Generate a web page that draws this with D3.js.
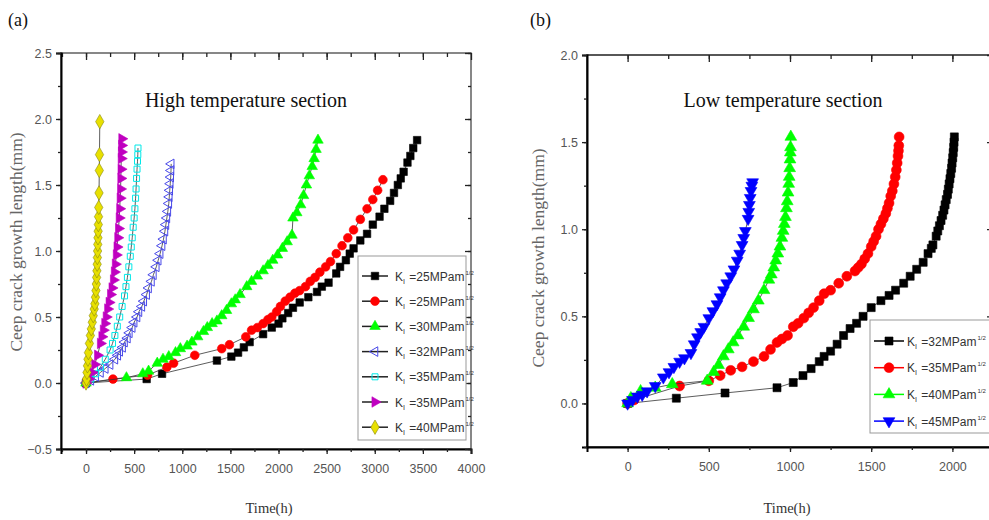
<!DOCTYPE html>
<html>
<head>
<meta charset="utf-8">
<title>Creep crack growth</title>
<script src="https://cdn.jsdelivr.net/npm/d3@7"></script>
<style>
body { margin: 0; padding: 0; background: #fff; }
.serif { font-family: "Liberation Serif", "Times New Roman", serif; }
.sans { font-family: "Liberation Sans", Arial, sans-serif; }
</style>
</head>
<body>
<svg id="chart" width="989" height="520"></svg>
<script>

// ---- panel (a): high temperature section, [time h, length mm]
var hiK25a = [[0,0],[630,0.03],[790,0.07],[1360,0.17],[1510,0.2],[1580,0.23],[1640,0.27],[1700,0.31],[1840,0.37],[1930,0.42],[2000,0.45],[2040,0.49],[2100,0.53],[2150,0.57],[2220,0.61],[2310,0.65],[2400,0.69],[2450,0.73],[2520,0.76],[2600,0.83],[2640,0.88],[2700,0.93],[2740,0.98],[2780,1.02],[2850,1.08],[2920,1.13],[2980,1.2],[3050,1.26],[3100,1.32],[3160,1.38],[3200,1.44],[3240,1.5],[3270,1.55],[3300,1.6],[3340,1.67],[3370,1.72],[3400,1.78],[3440,1.84]];
var hiK25b = [[0,0],[280,0.03],[640,0.06],[840,0.12],[910,0.15],[1130,0.21],[1410,0.26],[1490,0.29],[1660,0.35],[1720,0.4],[1780,0.42],[1840,0.45],[1890,0.48],[1930,0.5],[1980,0.54],[2020,0.58],[2070,0.62],[2120,0.65],[2170,0.68],[2220,0.7],[2280,0.73],[2330,0.77],[2380,0.8],[2430,0.84],[2490,0.88],[2540,0.92],[2600,0.98],[2660,1.04],[2720,1.1],[2780,1.16],[2850,1.24],[2920,1.32],[2980,1.39],[3030,1.46],[3085,1.54]];
var hiK30 = [[0,0],[420,0.04],[590,0.07],[650,0.09],[740,0.15],[800,0.18],[860,0.2],[930,0.23],[980,0.26],[1050,0.28],[1100,0.31],[1160,0.35],[1220,0.39],[1260,0.42],[1310,0.45],[1360,0.47],[1410,0.51],[1460,0.55],[1510,0.6],[1550,0.63],[1600,0.67],[1670,0.73],[1720,0.77],[1780,0.81],[1840,0.85],[1890,0.89],[1940,0.93],[1990,0.97],[2040,1.02],[2090,1.07],[2140,1.12],[2150,1.25],[2190,1.29],[2230,1.35],[2260,1.42],[2290,1.5],[2320,1.57],[2350,1.64],[2370,1.7],[2390,1.77],[2410,1.84]];
var hiK32 = [[0,0],[50,0.02],[100,0.05],[150,0.08],[200,0.11],[250,0.14],[300,0.18],[330,0.21],[350,0.24],[380,0.27],[400,0.31],[430,0.34],[450,0.38],[480,0.42],[500,0.46],[530,0.5],[550,0.54],[580,0.58],[600,0.62],[630,0.67],[650,0.72],[680,0.77],[700,0.82],[730,0.88],[750,0.93],[770,0.98],[790,1.04],[805,1.09],[820,1.15],[830,1.2],[840,1.25],[850,1.3],[860,1.36],[865,1.41],[870,1.46],[875,1.51],[880,1.56],[883,1.61],[885,1.66]];
var hiK35a = [[0,0],[50,0.03],[100,0.07],[150,0.12],[200,0.18],[250,0.25],[275,0.3],[300,0.36],[325,0.43],[350,0.5],[375,0.58],[400,0.66],[415,0.73],[430,0.8],[445,0.88],[460,0.96],[470,1.03],[480,1.1],[490,1.18],[500,1.25],[508,1.32],[515,1.4],[520,1.47],[525,1.55],[530,1.62],[535,1.68],[538,1.73],[540,1.78]];
var hiK35b = [[0,0],[30,0.03],[60,0.08],[90,0.14],[120,0.21],[150,0.3],[165,0.35],[180,0.4],[195,0.45],[210,0.5],[225,0.56],[240,0.61],[255,0.67],[270,0.72],[285,0.78],[295,0.84],[305,0.9],[315,0.97],[322,1.03],[330,1.1],[338,1.17],[345,1.25],[350,1.32],[355,1.4],[359,1.47],[362,1.55],[364,1.62],[366,1.7],[368,1.75],[370,1.8],[372,1.85]];
var hiK40 = [[0,0],[5,0.03],[10,0.08],[15,0.13],[20,0.18],[25,0.23],[35,0.3],[45,0.36],[55,0.41],[65,0.46],[75,0.51],[85,0.56],[92,0.6],[98,0.65],[103,0.7],[107,0.75],[110,0.8],[113,0.85],[116,0.9],[118,0.95],[120,1.0],[122,1.05],[124,1.1],[126,1.15],[128,1.2],[130,1.26],[132,1.33],[135,1.44],[138,1.61],[140,1.73],[143,1.98]];

// ---- panel (b): low temperature section
var loK32 = [[0,0],[300,0.03],[600,0.06],[920,0.09],[1020,0.12],[1080,0.16],[1130,0.2],[1180,0.24],[1210,0.27],[1250,0.3],[1290,0.34],[1330,0.39],[1370,0.43],[1410,0.46],[1450,0.5],[1500,0.55],[1560,0.59],[1610,0.62],[1650,0.65],[1700,0.69],[1740,0.73],[1780,0.77],[1820,0.81],[1850,0.86],[1870,0.89],[1880,0.91],[1900,0.96],[1910,0.99],[1920,1.02],[1930,1.05],[1940,1.08],[1948,1.11],[1955,1.14],[1962,1.17],[1970,1.2],[1975,1.23],[1980,1.26],[1985,1.29],[1990,1.32],[1995,1.35],[1998,1.38],[2002,1.41],[2005,1.44],[2008,1.47],[2010,1.5],[2012,1.53]];
var loK35 = [[0,0],[40,0.02],[320,0.1],[500,0.13],[570,0.16],[635,0.19],[705,0.21],[775,0.24],[840,0.27],[880,0.31],[920,0.35],[950,0.37],[985,0.39],[1020,0.44],[1050,0.46],[1085,0.49],[1115,0.52],[1145,0.55],[1180,0.59],[1210,0.63],[1250,0.65],[1300,0.69],[1350,0.73],[1400,0.76],[1420,0.78],[1440,0.8],[1460,0.83],[1480,0.86],[1500,0.9],[1515,0.93],[1530,0.96],[1545,1.0],[1560,1.03],[1575,1.06],[1590,1.09],[1600,1.12],[1610,1.15],[1620,1.19],[1630,1.22],[1640,1.26],[1648,1.3],[1655,1.34],[1660,1.38],[1665,1.42],[1668,1.45],[1670,1.48],[1672,1.53]];
var loK40 = [[0,0],[20,0.03],[80,0.07],[170,0.09],[275,0.11],[490,0.13],[530,0.18],[560,0.22],[590,0.27],[620,0.31],[650,0.35],[680,0.39],[715,0.44],[745,0.49],[775,0.54],[805,0.59],[840,0.65],[870,0.71],[885,0.74],[900,0.78],[912,0.82],[925,0.86],[938,0.9],[950,0.95],[958,0.99],[965,1.03],[972,1.07],[978,1.12],[983,1.16],[988,1.21],[992,1.26],[995,1.3],[998,1.35],[1000,1.4],[1002,1.44],[1003,1.47],[1005,1.53]];
var loK45 = [[0,0],[30,0.02],[60,0.04],[90,0.05],[120,0.07],[170,0.1],[220,0.15],[255,0.18],[285,0.21],[320,0.24],[350,0.26],[390,0.29],[410,0.34],[430,0.38],[450,0.41],[470,0.44],[500,0.49],[525,0.53],[550,0.57],[570,0.61],[590,0.65],[610,0.69],[635,0.73],[655,0.77],[675,0.82],[690,0.86],[705,0.91],[715,0.95],[725,0.99],[742,1.06],[746,1.1],[750,1.14],[755,1.18],[760,1.22],[765,1.25],[770,1.27]];

var hiLabels = ['25', '25', '30', '32', '35', '35', '40'];
var loLabels = ['32', '35', '40', '45'];

var svg = d3.select('#chart');

var rot = function(a){ return 'rotate(' + a + ')'; };

// marker styles for each series
var hiSeries = [
  {data: hiK25a, sym: d3.symbolSquare, size: 56, fill: '#000', stroke: '#000', r: 0, line: '#000'},
  {data: hiK25b, sym: d3.symbolCircle, size: 60, fill: '#f00', stroke: '#f00', r: 0, line: '#000'},
  {data: hiK30, sym: d3.symbolTriangle, size: 48, fill: '#0f0', stroke: '#0f0', r: 0, line: '#000'},
  {data: hiK32, sym: d3.symbolTriangle, size: 40, fill: 'none', stroke: '#4848e8', r: -90, line: '#4848e8'},
  {data: hiK35a, sym: d3.symbolSquare, size: 36, fill: 'none', stroke: '#00e8e8', r: 0, line: '#333'},
  {data: hiK35b, sym: d3.symbolTriangle, size: 48, fill: '#c000c0', stroke: '#c000c0', r: 90, line: '#c000c0'},
  {data: hiK40, sym: d3.symbolDiamond, size: 60, fill: '#e8e000', stroke: '#8a8a10', r: 0, line: '#555'}
];
var loSeries = [
  {data: loK32, sym: d3.symbolSquare, size: 64, fill: '#000', stroke: '#000', r: 0, line: '#000'},
  {data: loK35, sym: d3.symbolCircle, size: 76, fill: '#f00', stroke: '#f00', r: 0, line: '#f00'},
  {data: loK40, sym: d3.symbolTriangle, size: 60, fill: '#0f0', stroke: '#0f0', r: 0, line: '#0f0'},
  {data: loK45, sym: d3.symbolTriangle, size: 60, fill: '#00f', stroke: '#00f', r: 180, line: '#00f'}
];

function drawPanel(p) {
  var g = svg.append('g');
  var x = d3.scaleLinear().domain(p.xdom).range([p.left, p.right]);
  var y = d3.scaleLinear().domain(p.ydom).range([p.bottom, p.top]);

  g.append('defs').append('clipPath').attr('id', 'clip' + p.id)
    .append('rect').attr('x', p.left).attr('y', p.top - 10)
    .attr('width', p.right - p.left).attr('height', p.bottom - p.top + 10);

  // frame
  g.append('rect').attr('x', p.left).attr('y', p.top)
    .attr('width', p.right - p.left).attr('height', p.bottom - p.top)
    .attr('fill', 'none').attr('stroke', p.frameColor).attr('stroke-width', 1.4);

  var xmaj = d3.range(p.xmin, p.xmax + 1, p.xstep);
  var xmin = d3.range(p.xmin - p.xstep / 2, p.xmax + 1, p.xstep / 2).filter(function(v){ return v > p.xdom[0] && v < p.xdom[1]; });
  var ymaj = d3.range(p.ymin, p.ymax + 0.001, 0.5);
  var ymin = d3.range(p.ydom[0], p.ydom[1] + 0.001, 0.25);

  // bottom axis (outward), top axis (inward)
  var bottomAx = g.append('g').attr('transform', 'translate(0,' + p.bottom + ')')
    .call(d3.axisBottom(x).tickValues(xmaj).tickSize(5).tickPadding(10).tickFormat(d3.format('d')));
  bottomAx.select('.domain').attr('stroke', '#000').attr('stroke-width', 2);
  g.append('g').attr('transform', 'translate(0,' + p.bottom + ')')
    .call(d3.axisBottom(x).tickValues(xmin).tickSize(3).tickFormat(''))
    .select('.domain').remove();
  g.append('g').attr('transform', 'translate(0,' + p.top + ')')
    .call(d3.axisBottom(x).tickValues(xmaj).tickSize(7).tickFormat(''))
    .select('.domain').remove();
  g.append('g').attr('transform', 'translate(0,' + p.top + ')')
    .call(d3.axisBottom(x).tickValues(xmin).tickSize(4).tickFormat(''))
    .select('.domain').remove();

  var leftAx = g.append('g').attr('transform', 'translate(' + p.left + ',0)')
    .call(d3.axisLeft(y).tickValues(ymaj).tickSize(5).tickPadding(4).tickFormat(d3.format('.1f')));
  leftAx.select('.domain').attr('stroke', '#000').attr('stroke-width', 2);
  g.append('g').attr('transform', 'translate(' + p.left + ',0)')
    .call(d3.axisLeft(y).tickValues(ymin).tickSize(3).tickFormat(''))
    .select('.domain').remove();
  g.append('g').attr('transform', 'translate(' + p.right + ',0)')
    .call(d3.axisLeft(y).tickValues(ymaj).tickSize(6).tickFormat(''))
    .select('.domain').remove();
  g.append('g').attr('transform', 'translate(' + p.right + ',0)')
    .call(d3.axisLeft(y).tickValues(ymin).tickSize(3).tickFormat(''))
    .select('.domain').remove();

  g.selectAll('.tick line').attr('stroke', '#222').attr('stroke-width', 1.3);
  g.selectAll('.tick text').attr('class', 'sans').attr('font-size', 12.5).attr('fill', '#555')
    .attr('font-family', '"Liberation Sans", Arial, sans-serif');

  // series
  var line = d3.line().x(function(d){ return x(d[0]); }).y(function(d){ return y(d[1]); });
  var plot = g.append('g').attr('clip-path', 'url(#clip' + p.id + ')');
  p.series.forEach(function(s) {
    plot.append('path').datum(s.data).attr('d', line)
      .attr('fill', 'none').attr('stroke', '#333').attr('stroke-width', 0.8);
    plot.selectAll(null).data(s.data).enter().append('path')
      .attr('d', d3.symbol().type(s.sym).size(s.size))
      .attr('transform', function(d){ return 'translate(' + x(d[0]) + ',' + y(d[1]) + ')' + rot(s.r); })
      .attr('fill', s.fill).attr('stroke', s.stroke).attr('stroke-width', s.fill === 'none' ? 1 : 0.6);
  });

  // legend
  var lg = g.append('g');
  lg.append('rect').attr('x', p.lx).attr('y', p.ly).attr('width', p.lw).attr('height', p.lh)
    .attr('fill', '#fff').attr('stroke', '#999').attr('stroke-width', 1);
  p.series.forEach(function(s, i) {
    var yy = p.ly + p.lpad + i * p.lstep;
    lg.append('line').attr('x1', p.lx + 4).attr('x2', p.lx + 4 + p.llen).attr('y1', yy).attr('y2', yy)
      .attr('stroke', p.legendLine ? s.line : '#222').attr('stroke-width', 1.5);
    lg.append('path').attr('d', d3.symbol().type(s.sym).size(s.size))
      .attr('transform', 'translate(' + (p.lx + 4 + p.llen / 2) + ',' + yy + ')' + rot(s.r))
      .attr('fill', s.fill).attr('stroke', s.stroke).attr('stroke-width', s.fill === 'none' ? 1 : 0.6);
    var t = lg.append('text').attr('class', 'sans').attr('x', p.lx + p.llen + p.lgap).attr('y', yy + 4.5)
      .attr('font-size', p.lfs).attr('fill', '#333');
    t.append('tspan').text('K');
    t.append('tspan').attr('font-size', p.lfs * 0.6).attr('dy', 3).text('I');
    t.append('tspan').attr('dy', -3).attr('dx', 1).text(' =' + p.labels[i] + 'MPam');
    t.append('tspan').attr('font-size', p.lfs * 0.5).attr('dy', -6).attr('dx', 1).text('1/2');
  });

  // texts
  svg.append('text').attr('class', 'serif').attr('x', p.tagX).attr('y', 26)
    .attr('font-size', 18).attr('fill', '#111').text(p.tag);
  svg.append('text').attr('class', 'serif').attr('x', p.titleX).attr('y', 107)
    .attr('text-anchor', 'middle').attr('font-size', 20).attr('fill', '#111').text(p.title);
  svg.append('text').attr('class', 'serif').attr('x', p.xlabX).attr('y', 513)
    .attr('text-anchor', 'middle').attr('font-size', 14.5).attr('fill', '#333').text('Time(h)');
  svg.append('text').attr('class', 'serif')
    .attr('transform', 'translate(' + p.ylabX + ',' + p.ylabY + ') rotate(-90)')
    .attr('text-anchor', 'middle').attr('font-size', 17.5).attr('fill', '#666')
    .text('Ceep crack growth length(mm)');
}

drawPanel({
  id: 'a', left: 61, right: 471, top: 53, bottom: 449,
  xdom: [-260, 4000], ydom: [-0.5, 2.5],
  xmin: 0, xmax: 4000, xstep: 500, ymin: -0.5, ymax: 2.5,
  frameColor: '#555',
  series: hiSeries, labels: hiLabels, legendLine: false,
  lx: 358, ly: 256, lw: 108, lh: 184, lpad: 20, lstep: 25.2, llen: 26, lfs: 12, lgap: 11,
  tag: '(a)', tagX: 8, title: 'High temperature section', titleX: 246,
  xlabX: 269, ylabX: 22, ylabY: 242
});

drawPanel({
  id: 'b', left: 587, right: 993, top: 55, bottom: 447,
  xdom: [-250, 2250], ydom: [-0.25, 2.0],
  xmin: 0, xmax: 2000, xstep: 500, ymin: 0, ymax: 2.0,
  frameColor: '#111',
  series: loSeries, labels: loLabels, legendLine: true,
  lx: 870, ly: 320, lw: 120, lh: 113, lpad: 21, lstep: 26.7, llen: 30, lfs: 12, lgap: 7,
  tag: '(b)', tagX: 530, title: 'Low temperature section', titleX: 783,
  xlabX: 787, ylabX: 544, ylabY: 258
});

</script>
</body>
</html>
